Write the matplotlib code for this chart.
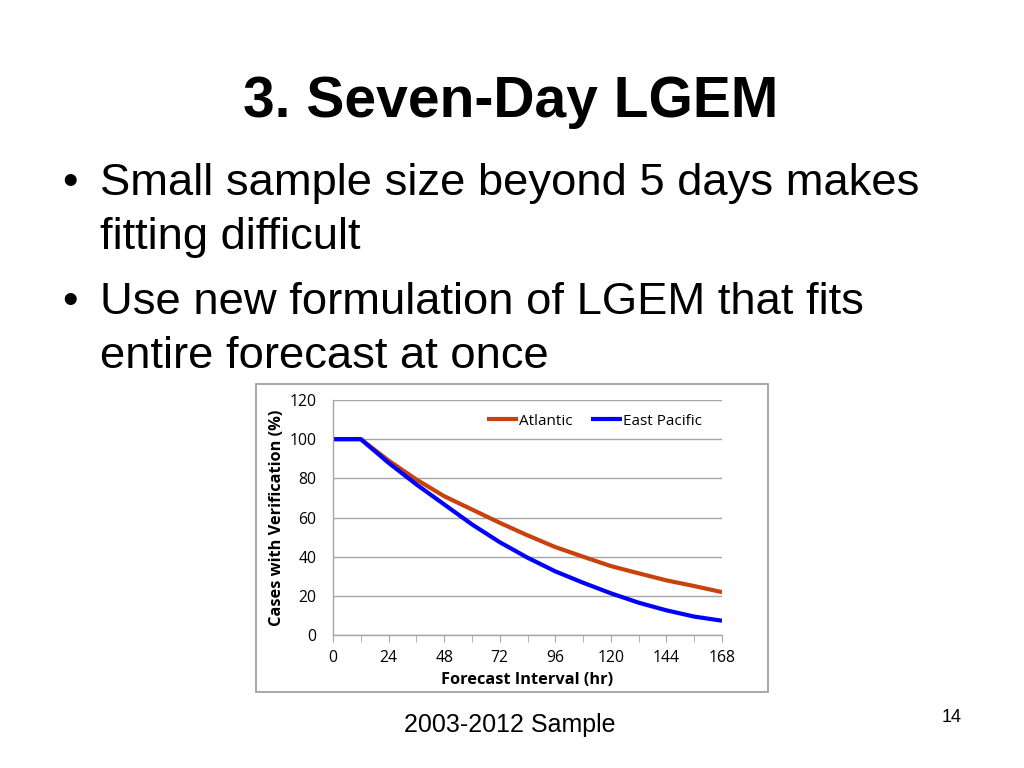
import matplotlib
matplotlib.use("Agg")
import matplotlib.pyplot as plt
from matplotlib.patches import Rectangle

hours = [0, 12, 24, 36, 48, 60, 72, 84, 96, 108, 120, 132, 144, 156, 168]
atlantic = [100, 100, 89.1, 79.4, 70.9, 64.1, 57.3, 50.9, 44.9, 40.0, 35.2, 31.5, 27.9, 25.0, 21.9]
east_pacific = [100, 100, 87.9, 76.9, 66.7, 56.5, 47.4, 39.5, 32.5, 26.7, 21.3, 16.5, 12.6, 9.4, 7.3]
xticks = [0, 24, 48, 72, 96, 120, 144, 168]
yticks = [0, 20, 40, 60, 80, 100, 120]

title = "3. Seven-Day LGEM"
bullets = [("Small sample size beyond 5 days makes", "fitting difficult"),
           ("Use new formulation of LGEM that fits", "entire forecast at once")]

W, H = 1024, 768
fig = plt.figure(figsize=(W / 100, H / 100), dpi=100)
fig.patch.set_facecolor("white")

def fx(px):
    return px / W

def fy(py):
    return 1 - py / H

sans = ["Liberation Sans", "DejaVu Sans"]

fig.text(fx(511), fy(102), title, ha="center", va="center", fontsize=41,
         fontweight="bold", family=sans, color="black")

line_y = [(183, 238), (302, 357)]
for (l1, l2), (y1, y2) in zip(bullets, line_y):
    fig.text(fx(62), fy(y1), "\u2022", ha="left", va="center", fontsize=32, family=sans)
    fig.text(fx(100), fy(y1), l1, ha="left", va="center", fontsize=32.7, family=sans)
    fig.text(fx(100), fy(y2), l2, ha="left", va="center", fontsize=32.7, family=sans)

fig.text(fx(510), fy(725), "2003-2012 Sample", ha="center", va="center", fontsize=18, family=sans)
fig.text(fx(952), fy(718), "14", ha="center", va="center", fontsize=13, family=sans)

# chart frame
fig.patches.append(Rectangle((fx(256), fy(692)), fx(768) - fx(256), fy(384) - fy(692),
                             transform=fig.transFigure, facecolor="white",
                             edgecolor="#9a9a9a", linewidth=1.2, zorder=-1))

cfont = ["Open Sans", "DejaVu Sans"]
ax = fig.add_axes([fx(333), fy(635), fx(722) - fx(333), fy(400) - fy(635)])
ax.set_facecolor("white")
ax.plot(hours, atlantic, color="#C9420E", lw=3.0, label="Atlantic", solid_capstyle="butt")
ax.plot(hours, east_pacific, color="#0000FF", lw=3.0, label="East Pacific", solid_capstyle="butt")
ax.set_xlim(0, 168)
ax.set_ylim(0, 120)
ax.set_yticks(yticks)
ax.set_xticks(xticks)
ax.set_xticks(hours, minor=True)
ax.grid(axis="y", color="#a6a6a6", lw=1.0)
ax.set_axisbelow(True)
for s in ["top", "right"]:
    ax.spines[s].set_visible(False)
for s in ["left", "bottom"]:
    ax.spines[s].set_color("#a6a6a6")
    ax.spines[s].set_linewidth(1.0)
ax.tick_params(axis="y", length=0, pad=12, labelsize=11.3, colors="black")
ax.tick_params(axis="x", which="both", length=5, color="#a6a6a6", labelsize=11.3, pad=6)
for lab in ax.get_xticklabels() + ax.get_yticklabels():
    lab.set_family(cfont)
ax.set_xlabel("Forecast Interval (hr)", fontsize=11.8, fontweight="bold", family=cfont, labelpad=4)
ax.set_ylabel("Cases with Verification (%)", fontsize=11.8, fontweight="bold", family=cfont, labelpad=3)
leg = ax.legend(loc="upper right", bbox_to_anchor=(0.985, 1.0), ncol=2, frameon=False,
                prop={"family": cfont, "size": 11}, handlelength=2.0, handletextpad=0.1,
                columnspacing=1.2)

fig.savefig("out.png", dpi=100, facecolor="white")
